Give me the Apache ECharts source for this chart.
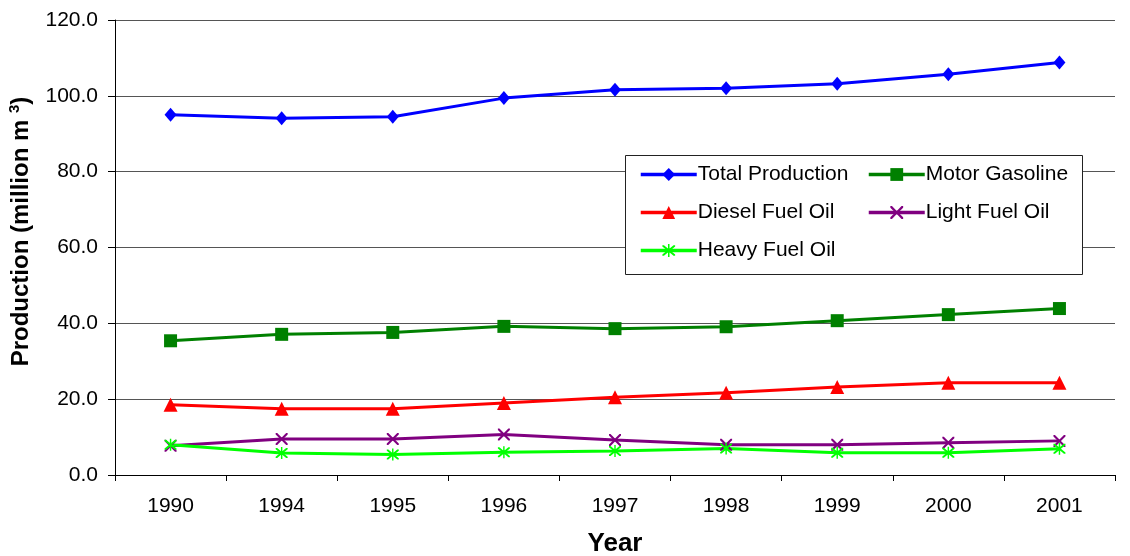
<!DOCTYPE html>
<html><head><meta charset="utf-8">
<script src="https://cdn.jsdelivr.net/npm/echarts@6/dist/echarts.min.js"></script>
<style>html,body{margin:0;padding:0;background:#fff}#c{width:1130px;height:556px}</style>
</head><body><div id="c"></div>
<script>
const years = ['1990','1994','1995','1996','1997','1998','1999','2000','2001'];
const totalProduction = [95.0, 94.1, 94.5, 99.4, 101.6, 102.0, 103.2, 105.7, 108.8];
const motorGasoline = [35.4, 37.1, 37.6, 39.2, 38.6, 39.1, 40.7, 42.3, 43.9];
const dieselFuelOil = [18.5, 17.5, 17.5, 19.0, 20.5, 21.7, 23.2, 24.3, 24.3];
const lightFuelOil = [7.7, 9.5, 9.5, 10.7, 9.2, 8.0, 8.0, 8.5, 9.0];
const heavyFuelOil = [8.0, 5.8, 5.4, 6.0, 6.3, 7.0, 5.9, 5.9, 6.9];

const xPath = 'path://M0,0 L2.5,0 L10,7.5 L17.5,0 L20,0 L20,2.5 L12.5,10 L20,17.5 L20,20 L17.5,20 L10,12.5 L2.5,20 L0,20 L0,17.5 L7.5,10 L0,2.5 Z';
const starPath = 'path://M0,0 L2.5,0 L10,7.5 L17.5,0 L20,0 L20,2.5 L12.5,10 L20,17.5 L20,20 L17.5,20 L10,12.5 L2.5,20 L0,20 L0,17.5 L7.5,10 L0,2.5 Z M8.8,-2 L11.2,-2 L11.2,22 L8.8,22 Z';

const font = 'Liberation Sans, Arial, sans-serif';
function mk(name, data, color, symbol, size) {
  return {
    name, type: 'line', data, symbol, symbolSize: size,
    lineStyle: { color, width: 3 },
    itemStyle: { color },
    emphasis: { disabled: true },
    animation: false
  };
}
const legendText = { fontFamily: font, fontSize: 21, lineHeight: 21, color: '#000', padding: [0, 0, 0, -4] };
const chart = echarts.init(document.getElementById('c'));
chart.setOption({
  backgroundColor: '#fff',
  animation: false,
  grid: { left: 115, right: 15, top: 20, bottom: 81, containLabel: false, outerBoundsMode: 'none' },
  xAxis: {
    type: 'category', data: years, boundaryGap: true,
    name: 'Year', nameLocation: 'middle', nameGap: 56,
    nameTextStyle: { fontFamily: font, fontSize: 26, fontWeight: 'bold', color: '#000' },
    axisLine: { lineStyle: { color: '#000', width: 1 } },
    axisTick: { show: true, length: 6, inside: false, lineStyle: { color: '#000' } },
    axisLabel: { fontFamily: font, fontSize: 21, color: '#000', margin: 21 },
    splitLine: { show: false }
  },
  yAxis: {
    type: 'value', min: 0, max: 120, interval: 20,
    name: '{a|Production (million m }{s|3}{a|)}', nameLocation: 'middle', nameGap: 80, nameRotate: 90,
    nameTextStyle: {
      fontFamily: font, fontSize: 24, fontWeight: 'bold', color: '#000', padding: [0, 0, 0, 32],
      rich: {
        a: { fontFamily: font, fontSize: 24, fontWeight: 'bold', color: '#000', lineHeight: 28 },
        s: { fontFamily: font, fontSize: 15, fontWeight: 'bold', color: '#000', verticalAlign: 'top', lineHeight: 28, padding: [0, 0, 10, 0] }
      }
    },
    axisLine: { show: true, lineStyle: { color: '#000', width: 1 } },
    axisTick: { show: true, length: 7, lineStyle: { color: '#000' } },
    axisLabel: { fontFamily: font, fontSize: 21, color: '#000', margin: 17, formatter: v => v.toFixed(1) },
    splitLine: { show: true, lineStyle: { color: '#555', width: 1 } }
  },
  graphic: [{
    type: 'rect', left: 625, top: 155, shape: { width: 457, height: 119 },
    style: { fill: '#fff', stroke: '#222', lineWidth: 1 }, z: 5
  }],
  legend: [{
    orient: 'vertical', left: 634, top: 159, itemWidth: 56, itemHeight: 16, itemGap: 17,
    data: ['Total Production', 'Diesel Fuel Oil', 'Heavy Fuel Oil'],
    textStyle: legendText, lineStyle: { width: 3.5 },
    z: 10, selectedMode: false
  }, {
    orient: 'vertical', left: 862, top: 159, itemWidth: 56, itemHeight: 16, itemGap: 17,
    data: ['Motor Gasoline', 'Light Fuel Oil'],
    textStyle: legendText, lineStyle: { width: 3.5 },
    z: 10, selectedMode: false
  }],
  series: [
    mk('Total Production', totalProduction, '#0000FF', 'diamond', [12, 14]),
    mk('Motor Gasoline', motorGasoline, '#008000', 'rect', 13),
    mk('Diesel Fuel Oil', dieselFuelOil, '#FF0000', 'triangle', 14),
    mk('Light Fuel Oil', lightFuelOil, '#800080', xPath, 12),
    mk('Heavy Fuel Oil', heavyFuelOil, '#00FF00', starPath, 12)
  ]
});
</script></body></html>
